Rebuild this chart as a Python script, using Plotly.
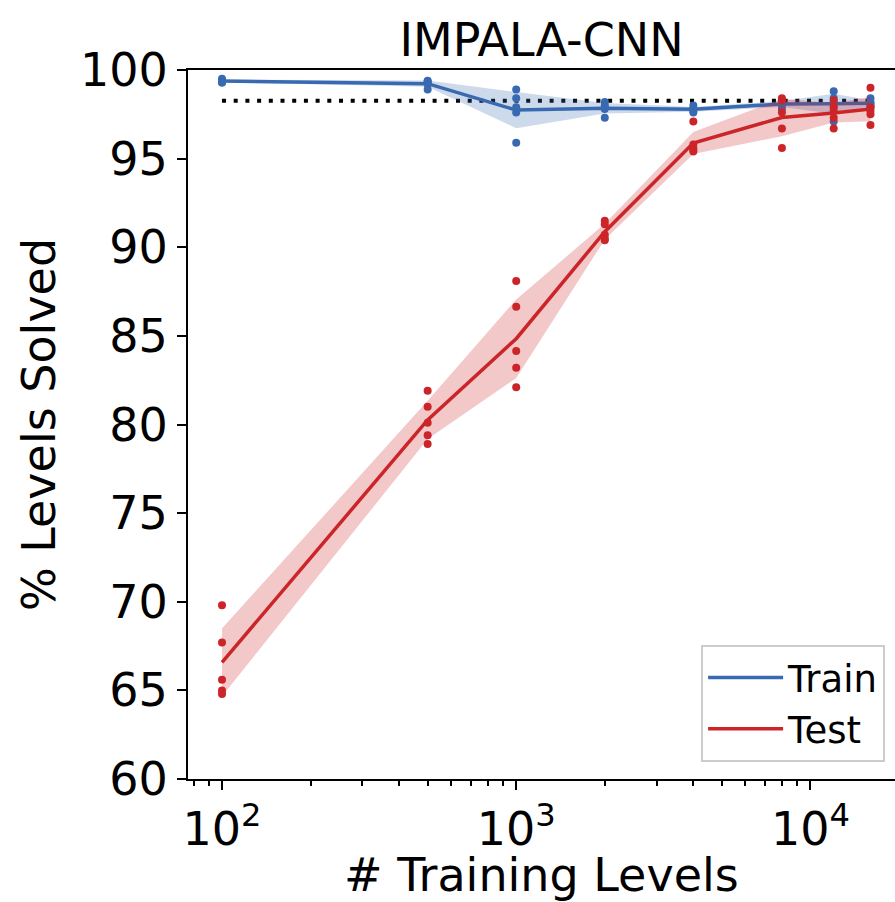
import numpy as np
import plotly.graph_objects as go

# ---------------- data ----------------
levels = [100, 500, 1000, 2000, 4000, 8000, 12000, 16000]

train_seeds = [
    [99.5, 99.4, 99.4, 99.3, 99.3],
    [99.4, 99.35, 99.3, 99.2, 98.9],
    [98.9, 98.4, 97.9, 97.6, 95.9],
    [98.2, 98.0, 97.9, 97.8, 97.3],
    [98.0, 97.8, 97.8, 97.7, 97.6],
    [98.3, 98.2, 98.1, 98.0, 97.8],
    [98.8, 98.4, 98.2, 98.0, 97.1],
    [98.4, 98.2, 98.1, 98.0, 97.9],
]
test_seeds = [
    [69.8, 67.7, 65.6, 65.0, 64.8],
    [81.9, 81.0, 80.1, 79.4, 78.9],
    [88.1, 86.65, 84.15, 83.2, 82.1],
    [91.5, 91.3, 90.7, 90.5, 90.4],
    [97.1, 95.8, 95.6, 95.5, 95.4],
    [98.4, 98.3, 97.6, 96.7, 95.6],
    [98.3, 97.9, 97.7, 97.3, 96.7],
    [99.0, 97.9, 97.7, 97.5, 96.9],
]
reference_level = 98.27

y_ticks = [60, 65, 70, 75, 80, 85, 90, 95, 100]
x_major = [100, 1000, 10000]
x_major_text = ["10<sup>2</sup>", "10<sup>3</sup>", "10<sup>4</sup>"]
x_minor = [80, 90] + [m * 100 for m in range(2, 10)] + [m * 1000 for m in range(2, 10)] + [20000]

BLUE = "#396AB1"
RED = "#CC2529"
FONT = "DejaVu Sans"

fig = go.Figure()

# reference (dotted) line
fig.add_trace(go.Scatter(
    x=[levels[0], levels[-1]], y=[reference_level, reference_level],
    mode="lines", line=dict(color="black", width=4, dash="4px,7.7px"),
    showlegend=False, hoverinfo="skip"))


def add_series(seeds, name, color, fill):
    arr = np.array(seeds)
    mean = arr.mean(axis=1)
    std = arr.std(axis=1)
    lo = mean - std
    hi = mean + std
    fig.add_trace(go.Scatter(
        x=list(levels) + list(levels[::-1]),
        y=list(hi) + list(lo[::-1]),
        fill="toself", fillcolor=fill, line=dict(width=0),
        mode="lines", showlegend=False, hoverinfo="skip"))
    fig.add_trace(go.Scatter(
        x=levels, y=mean, mode="lines", name=name,
        line=dict(color=color, width=3.5)))
    xs, ys = [], []
    for lv, row in zip(levels, seeds):
        for v in row:
            xs.append(lv)
            ys.append(v)
    fig.add_trace(go.Scatter(
        x=xs, y=ys, mode="markers", marker=dict(color=color, size=8),
        showlegend=False))


add_series(train_seeds, "Train", BLUE, "rgba(57,106,177,0.25)")
add_series(test_seeds, "Test", RED, "rgba(204,37,41,0.25)")

fig.update_layout(
    width=895, height=902,
    margin=dict(l=188, r=0, t=70, b=123),
    paper_bgcolor="white", plot_bgcolor="white",
    font=dict(family=FONT, size=46, color="black"),
    title=dict(text="IMPALA-CNN", x=0.5, xref="paper", xanchor="center",
               y=1 - 40 / 902, yref="container", yanchor="middle",
               font=dict(family=FONT, size=46, color="black")),
    showlegend=True,
    legend=dict(x=0.986, y=0.024, xanchor="right", yanchor="bottom",
                bgcolor="white", bordercolor="#cccccc", borderwidth=2,
                font=dict(family=FONT, size=37, color="black"),
                itemwidth=75),
)

# x-axis title (placed as annotation so it can sit low, as in the reference)
fig.add_annotation(
    text="# Training Levels", xref="paper", yref="paper",
    x=0.5, y=-(846 - 779) / 709, xanchor="center", yanchor="top",
    showarrow=False, font=dict(family=FONT, size=46, color="black"))

fig.update_xaxes(
    type="log", range=[1.8844, 4.2875], automargin=False,
    tickmode="array", tickvals=x_major, ticktext=x_major_text,
    ticks="outside", ticklen=9, tickwidth=2, tickcolor="black",
    minor=dict(tickmode="array", tickvals=x_minor, ticks="outside",
               ticklen=5, tickwidth=1.5, tickcolor="black", showgrid=False),
    showline=True, linecolor="black", linewidth=2, mirror=True,
    showgrid=False, zeroline=False,
    tickfont=dict(family=FONT, size=46),
)
fig.update_yaxes(
    range=[60, 100], automargin=False, tickmode="array", tickvals=y_ticks,
    ticks="outside", ticklen=9, tickwidth=2, tickcolor="black",
    showline=True, linecolor="black", linewidth=2, mirror=False,
    showgrid=False, zeroline=False,
    title=dict(text="% Levels Solved", standoff=10,
               font=dict(family=FONT, size=46)),
    tickfont=dict(family=FONT, size=46),
)

fig.write_html("out.html")
